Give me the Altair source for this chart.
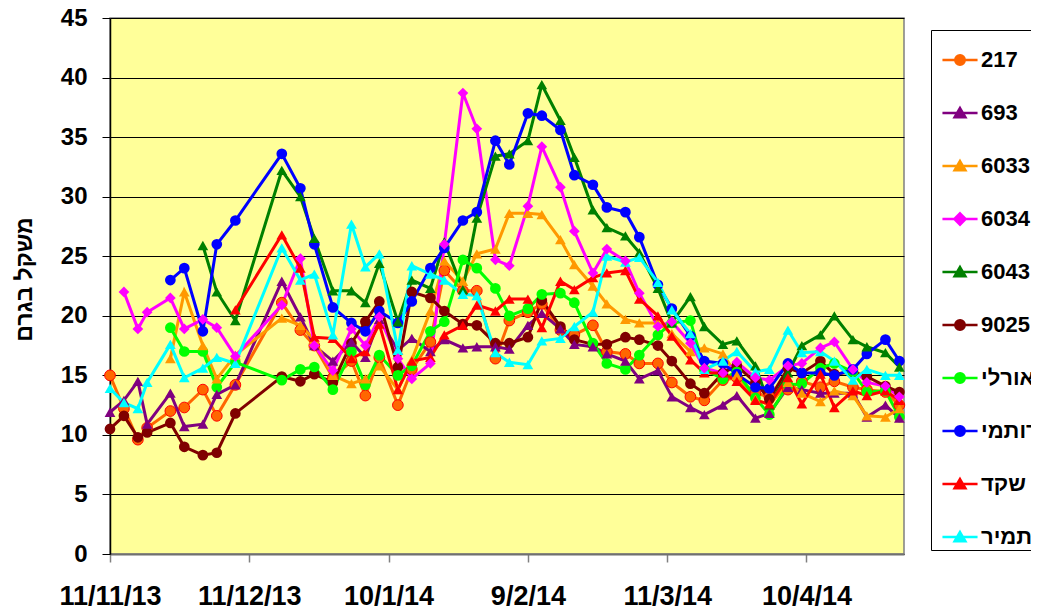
import json
import math
import altair as alt
import pandas as pd

# ---------------- data ----------------
DATES = [
    "2013-11-11", "2013-11-14", "2013-11-17", "2013-11-19", "2013-11-24", "2013-11-27",
    "2013-12-01", "2013-12-04", "2013-12-08", "2013-12-18", "2013-12-22", "2013-12-25",
    "2013-12-29", "2014-01-02", "2014-01-05", "2014-01-08", "2014-01-12", "2014-01-15",
    "2014-01-19", "2014-01-22", "2014-01-26", "2014-01-29", "2014-02-02", "2014-02-05",
    "2014-02-09", "2014-02-12", "2014-02-16", "2014-02-19", "2014-02-23", "2014-02-26",
    "2014-03-02", "2014-03-05", "2014-03-09", "2014-03-12", "2014-03-16", "2014-03-19",
    "2014-03-23", "2014-03-26", "2014-03-30", "2014-04-02", "2014-04-06", "2014-04-09",
    "2014-04-13", "2014-04-16", "2014-04-20", "2014-04-23", "2014-04-27", "2014-04-30",
]

N = None
S_217 = [15.0, 12.2, 9.6, 10.6, 12.0, 12.3, 13.8, 11.6, 14.2, 21.1, 18.8, 17.5, 14.8, 16.2, 13.3, 16.5,
         12.5, 15.5, 17.8, 23.8, 22.1, 22.1, 16.4, 19.6, 20.3, 21.0, 18.8, 18.4, 19.2, 17.0, 16.8, 16.0,
         16.0, 14.4, 13.2, 12.9, 14.6, 14.8, 13.5, 13.2, 13.8, 14.5, 14.0, 14.5, 14.0, 13.8, 13.6, 12.5]
S_693 = [11.9, 12.9, 14.5, 10.9, 13.5, 10.7, 10.9, 13.4, 14.2, 22.9, 19.9, 17.5, 16.2, 17.8, 16.5, 19.7,
         17.1, 18.1, 17.0, 18.0, 17.3, 17.4, 17.4, 17.2, 19.2, 20.2, 18.9, 17.6, 17.4, 16.8, 16.2, 14.7,
         15.4, 13.2, 12.3, 11.7, 12.5, 13.3, 11.4, 11.8, 14.0, 13.8, 13.5, 13.5, 13.5, 11.5, 12.5, 11.4]
S_6033 = [N, N, N, N, 16.4, 22.0, 17.5, 14.7, 16.7, 19.8, 19.2, 18.0, 15.0, 14.3, 14.7, 15.8,
          13.8, 16.3, 20.4, 24.6, 22.9, 25.2, 25.6, 28.6, 28.6, 28.5, 26.4, 24.3, 22.5, 21.0, 19.7, 19.4,
          19.4, 18.5, 17.0, 17.3, 16.8, 15.0, 13.0, 12.5, 14.4, 13.5, 12.8, 13.7, 13.3, 11.6, 11.5, 12.2]
S_6034 = [N, 22.0, 18.9, 20.3, 21.5, 18.9, 19.7, 19.0, 16.6, 20.9, 24.8, 17.5, 15.4, 18.9, 17.5, 19.9,
          16.4, 14.7, 16.0, 26.0, 38.7, 35.7, 24.7, 24.2, 29.2, 34.2, 30.8, 27.1, 23.6, 25.6, 24.6, 21.9,
          19.1, 19.5, 17.7, 15.6, 15.2, 16.1, 14.8, 14.6, 15.8, 16.0, 17.3, 17.8, 15.5, 14.4, 14.1, 13.2]
S_6043 = [N, N, N, N, N, N, 25.9, 22.0, 19.6, 32.2, 30.0, 26.5, 22.1, 22.1, 21.1, 24.4,
          19.5, 23.0, 22.3, 26.2, 22.2, 28.2, 33.4, 33.6, 34.7, 39.4, 36.4, 33.3, 28.9, 27.4, 26.7, 25.3,
          22.3, 19.4, 21.6, 19.1, 17.6, 17.9, 15.8, 12.5, 15.2, 17.5, 18.4, 20.0, 18.0, 17.4, 16.9, 15.7]
S_9025 = [10.5, 11.6, 9.8, 10.2, 11.0, 9.0, 8.3, 8.5, 11.8, 14.9, 14.5, 15.1, 14.4, 17.7, 19.5, 21.2,
          15.7, 22.0, 21.5, 20.4, 19.3, 19.2, 17.7, 17.7, 18.2, 21.3, 19.1, 18.0, 17.6, 17.6, 18.2, 18.0,
          17.5, 16.2, 14.3, 13.5, 15.2, 15.8, 14.4, 13.0, 15.6, 15.2, 16.2, 15.1, 15.3, 14.9, 14.1, 13.6]
S_ORLY = [N, N, N, N, 19.0, 17.0, 17.0, 14.0, 16.1, 14.6, 15.5, 15.7, 13.8, 17.0, 14.2, 16.7,
          15.0, 15.8, 18.7, 19.5, 24.7, 24.0, 22.3, 20.0, 20.6, 21.8, 21.9, 21.1, 17.7, 16.0, 15.5, 16.7,
          18.4, 19.4, 19.6, 15.5, 14.7, 15.3, 13.1, 11.7, 14.2, 14.3, 15.6, 16.0, 15.3, 13.6, 13.7, 11.5]
S_ROTEM = [N, N, N, N, 23.0, 24.0, 18.7, 26.0, 28.0, 33.6, 30.7, 26.0, 20.7, 19.4, 18.7, 20.4,
           19.4, 21.2, 24.0, 25.7, 28.0, 28.7, 34.7, 32.7, 37.0, 36.8, 35.6, 31.8, 31.0, 29.1, 28.7, 26.6,
           22.6, 20.6, 18.3, 16.2, 16.0, 15.1, 14.0, 13.9, 16.0, 15.2, 15.2, 15.0, 15.5, 16.8, 18.0, 16.2]
S_SHAKED = [N, N, N, N, N, N, N, N, 20.5, 26.8, 24.0, 18.2, 18.1, 16.4, 17.0, 19.3,
            13.8, 16.2, 16.5, 18.4, 19.2, 20.9, 20.4, 21.4, 21.4, 19.0, 22.9, 22.2, 23.2, 23.6, 23.8, 21.4,
            20.0, 18.3, 16.3, 15.2, 15.2, 14.5, 12.9, 12.6, 14.8, 12.6, 15.1, 12.3, 13.7, 13.3, 13.7, 12.9]
S_TAMIR = [13.9, 12.7, 12.2, 14.4, 17.6, 14.8, 15.6, 16.5, 16.0, 25.7, 23.0, 23.5, 18.4, 27.7, 24.1, 25.2,
           17.1, 24.2, 23.5, 23.0, 21.8, 21.7, 16.9, 16.1, 15.9, 17.9, 18.1, 19.1, 20.3, 25.0, 24.5, 24.9,
           22.8, 20.5, 18.5, 15.5, 16.2, 17.0, 15.3, 15.5, 18.8, 16.9, 17.0, 16.2, 14.6, 15.5, 15.0, 15.0]

SERIES = ["217", "693", "6033", "6034", "6043", "9025", "אורלי", "רותמי", "שקד", "תמיר"]
SERIES_VALUES = [S_217, S_693, S_6033, S_6034, S_6043, S_9025, S_ORLY, S_ROTEM, S_SHAKED, S_TAMIR]
LINE_COLORS = ["#FF6600", "#800080", "#FF9900", "#FF00FF", "#008000", "#800000",
               "#00FF00", "#0000FF", "#FF0000", "#00FFFF"]
FILL_COLORS = ["#FF6600", "#800080", "#FF9900", "#FF00FF", "#008000", "#800000",
               "#00FF00", "#0000FF", "#FF0000", "#00FFFF"]
MARKERS = ["circle", "triangle-up", "triangle-up", "diamond", "triangle-up", "circle",
           "circle", "circle", "triangle-up", "triangle-up"]

Y_TICKS = [0, 5, 10, 15, 20, 25, 30, 35, 40, 45]
X_TICK_DATES = ["2013-11-11", "2013-12-11", "2014-01-10", "2014-02-09", "2014-03-11", "2014-04-10"]
X_DOMAIN = ["2013-11-11", "2014-05-01"]
Y_TITLE = "משקל בגרם"

FONT = "Liberation Sans, Arial, sans-serif"

# ---------------- build table ----------------
rows = []
for name, vals in zip(SERIES, SERIES_VALUES):
    for d, v in zip(DATES, vals):
        if v is not None:
            rows.append({"date": d, "series": name, "value": v})
df = pd.DataFrame(rows)


def dt(s):
    y, m, d = (int(p) for p in s.split("-"))
    return alt.DateTime(year=y, month=m, date=d, utc=True)


# legend glyphs: line segment + marker (unit coordinates, scaled by sqrt(size)/2)
def poly(n, r):
    pts = [(r * math.sin(2 * math.pi * k / n), -r * math.cos(2 * math.pi * k / n)) for k in range(n)]
    return "M" + "L".join(f"{x:.3f},{y:.3f}" for x, y in pts) + "Z"


LEG_LINE = "M-3.9,0L3.9,0"
LEG_MARK = {
    "circle": poly(16, 1.05),
    "triangle-up": "M0,-1.1L1.2,0.95L-1.2,0.95Z",
    "diamond": "M0,-1.25L1.25,0L0,1.25L-1.25,0Z",
}
leg_paths = [LEG_LINE + LEG_MARK[m] for m in MARKERS]
SHAPE_EXPR = f"{json.dumps(leg_paths)}[indexof({json.dumps(SERIES, ensure_ascii=False)}, datum.value)]"
FILL_EXPR = f"{json.dumps(FILL_COLORS)}[indexof({json.dumps(SERIES, ensure_ascii=False)}, datum.value)]"

x_enc = alt.X(
    "date:T",
    scale=alt.Scale(type="utc", domain=[dt(X_DOMAIN[0]), dt(X_DOMAIN[1])]),
    axis=alt.Axis(
        values=[dt(s) for s in X_TICK_DATES], format="%-d/%-m/%y", title=None, grid=False,
        labelFont=FONT, labelFontSize=27, labelFontWeight="bold", labelColor="black",
        labelPadding=21, labelFlush=False, labelOverlap=False, labelBound=False,
        tickSize=8, tickColor="#808080", tickWidth=1.5, domainColor="#707070", domainWidth=2,
    ),
)
y_enc = alt.Y(
    "value:Q",
    scale=alt.Scale(domain=[0, 45], nice=False),
    axis=alt.Axis(
        values=Y_TICKS, title=Y_TITLE, titleFont=FONT, titleFontSize=23, titleFontWeight="bold",
        titleColor="black", titleX=-86, titleY=261, titleAlign="center", titleBaseline="middle",
        titleAngle=270,
        labelFont=FONT, labelFontSize=24, labelFontWeight="bold", labelColor="black",
        labelPadding=15, labelOverlap=False,
        tickSize=8, tickColor="black", tickWidth=1, domainColor="black", domainWidth=1.5,
        grid=True, gridColor="black", gridWidth=1, gridOpacity=1,
    ),
)

legend = alt.Legend(
    title=" ", titleFontSize=12, titlePadding=5,
    orient="none", legendX=821, legendY=12, direction="vertical",
    strokeColor="black", fillColor="white", padding=2,
    labelFont=FONT, labelFontSize=22, labelFontWeight="bold", labelColor="black", labelLimit=200,
    symbolSize=81, symbolStrokeWidth=2.5, symbolOffset=16, labelOffset=10, rowPadding=31.0,
    symbolType=alt.ExprRef(expr=SHAPE_EXPR),
    symbolFillColor=alt.ExprRef(expr=FILL_EXPR),
)

lines = alt.Chart().mark_line(strokeWidth=3).encode(
    x=x_enc,
    y=y_enc,
    stroke=alt.Stroke("series:N", scale=alt.Scale(domain=SERIES, range=LINE_COLORS), legend=legend),
)


def point_layer(shape):
    names = [s for s, m in zip(SERIES, MARKERS) if m == shape]
    enc = dict(
        x=x_enc,
        y=y_enc,
        fill=alt.Fill("series:N", scale=alt.Scale(domain=SERIES, range=FILL_COLORS), legend=None),
    )
    if "217" in names:
        enc["stroke"] = (alt.when(alt.datum.series == "217")
                         .then(alt.value("#FF0000")).otherwise(alt.value("transparent")))
    return (alt.Chart()
            .mark_point(shape=shape, filled=True, size=115, opacity=1, strokeWidth=1)
            .encode(**enc)
            .transform_filter(alt.FieldOneOfPredicate(field="series", oneOf=names)))


layers = [lines] + [point_layer(s) for s in ["circle", "triangle-up", "diamond"]]

chart = alt.layer(*layers, data=df).properties(
    width=794,
    height=536,
    autosize=alt.AutoSizeParams(type="none"),
    padding={"left": 102, "top": 10, "right": 127, "bottom": 52},
    background="white",
).configure_view(fill="#FFFF99", stroke="#808080", strokeWidth=1.5)

chart.save("out.html", embed_options={"renderer": "svg", "actions": False})
